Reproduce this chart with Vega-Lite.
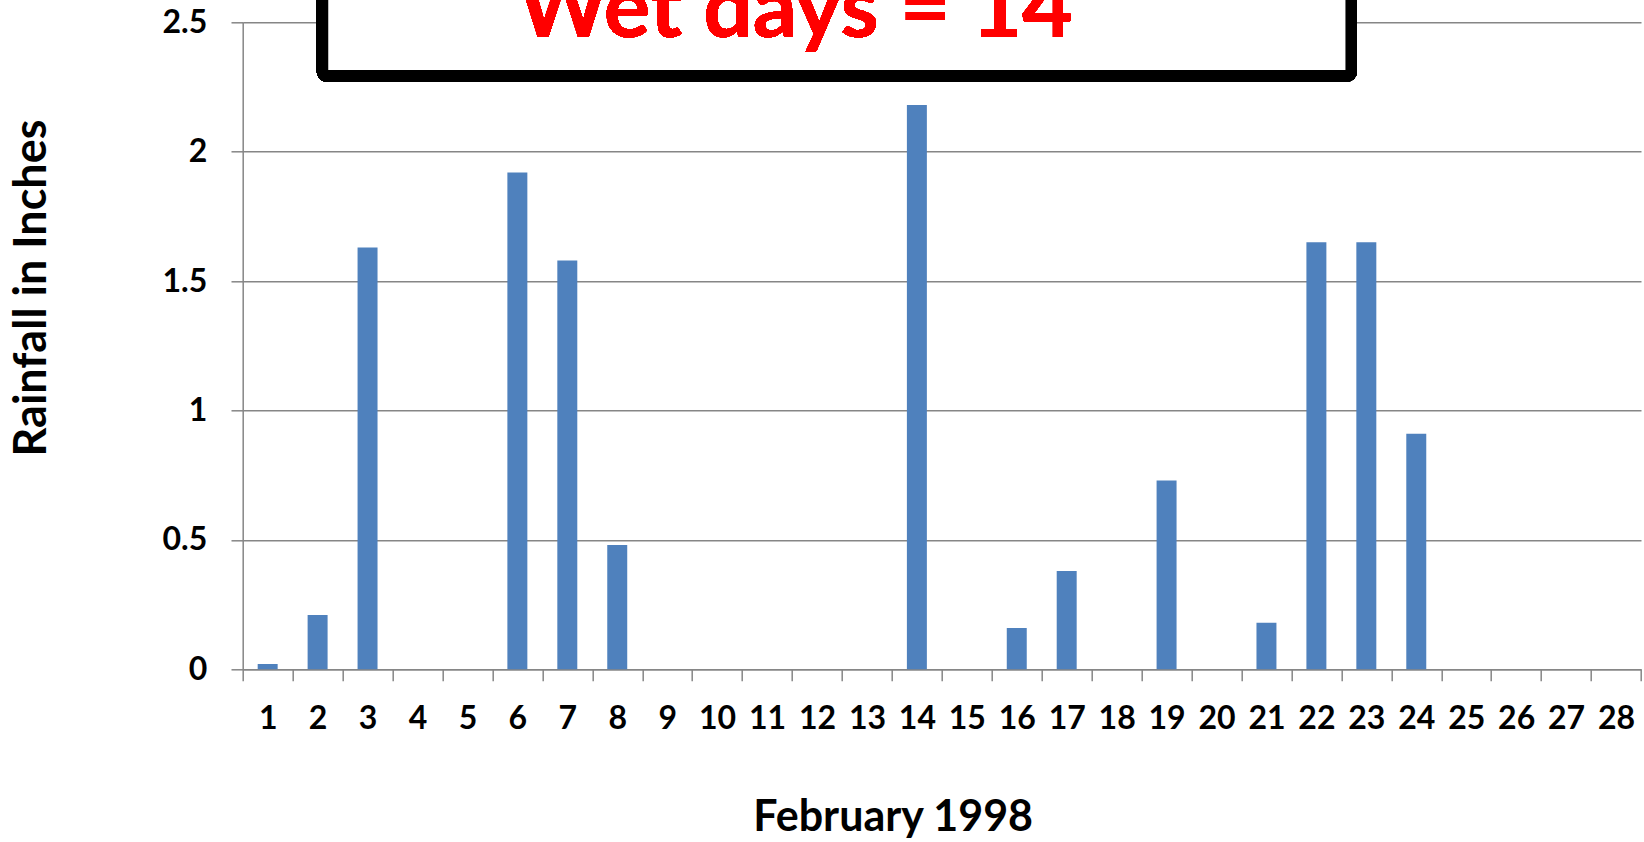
{
  "$schema": "https://vega.github.io/schema/vega-lite/v6.json",
  "width": 1398.3,
  "height": 647,
  "autosize": "none",
  "padding": {"left": 242.7, "top": 22.3, "right": 3, "bottom": 172.7},
  "background": "white",
  "config": {"view": {"stroke": null}, "font": "Lato"},
  "data": {
    "values": [
      {"day": 1, "rain": 0.02}, {"day": 2, "rain": 0.21}, {"day": 3, "rain": 1.63},
      {"day": 4, "rain": 0}, {"day": 5, "rain": 0}, {"day": 6, "rain": 1.92},
      {"day": 7, "rain": 1.58}, {"day": 8, "rain": 0.48}, {"day": 9, "rain": 0},
      {"day": 10, "rain": 0}, {"day": 11, "rain": 0}, {"day": 12, "rain": 0},
      {"day": 13, "rain": 0}, {"day": 14, "rain": 2.18}, {"day": 15, "rain": 0},
      {"day": 16, "rain": 0.16}, {"day": 17, "rain": 0.38}, {"day": 18, "rain": 0},
      {"day": 19, "rain": 0.73}, {"day": 20, "rain": 0}, {"day": 21, "rain": 0.18},
      {"day": 22, "rain": 1.65}, {"day": 23, "rain": 1.65}, {"day": 24, "rain": 0.91},
      {"day": 25, "rain": 0}, {"day": 26, "rain": 0}, {"day": 27, "rain": 0},
      {"day": 28, "rain": 0}
    ]
  },
  "layer": [
    {
      "mark": {"type": "bar", "color": "#4F81BD", "width": {"band": 0.4}},
      "encoding": {
        "x": {
          "field": "day", "type": "ordinal", "sort": null,
          "scale": {"paddingInner": 0, "paddingOuter": 0},
          "axis": {
            "title": "February 1998",
            "titleFont": "Lato", "titleFontSize": 43, "titleFontWeight": "bold", "titleColor": "black",
            "titleX": 650, "titleY": 161.4, "titleAlign": "center", "titleBaseline": "alphabetic",
            "labelFont": "Lato", "labelFontSize": 32, "labelFontWeight": "bold", "labelColor": "black",
            "labelAngle": 0, "labelBaseline": "alphabetic", "labelPadding": 47.5,
            "tickBand": "extent", "tickSize": 11.5, "tickColor": "#868686", "tickWidth": 1.5,
            "domainColor": "#868686", "domainWidth": 1.5, "grid": false
          }
        },
        "y": {
          "field": "rain", "type": "quantitative",
          "scale": {"domain": [0, 2.5], "nice": false},
          "axis": {
            "title": "Rainfall in Inches",
            "values": [0, 0.5, 1, 1.5, 2, 2.5], "format": "~g",
            "titleFont": "Lato", "titleFontSize": 45, "titleFontWeight": "bold", "titleColor": "black",
            "titleX": -197.7, "titleY": 265.2, "titleAlign": "center", "titleBaseline": "alphabetic", "titleAngle": -90,
            "labelFont": "Lato", "labelFontSize": 32, "labelFontWeight": "bold", "labelColor": "black",
            "labelPadding": 24.3, "tickSize": 11.7, "tickColor": "#868686", "tickWidth": 1.5,
            "domainColor": "#868686", "domainWidth": 1.5,
            "grid": true, "gridColor": "#868686", "gridWidth": 1.5
          }
        }
      }
    },
    {
      "mark": {"type": "rect", "fill": "white", "stroke": "black", "strokeWidth": 11.5, "cornerRadius": 4},
      "encoding": {
        "x": {"datum": 2.098, "type": "quantitative", "scale": {"domain": [0.5, 28.5], "nice": false, "zero": false}, "axis": null},
        "x2": {"datum": 22.697},
        "y": {"datum": 2.293, "type": "quantitative"},
        "y2": {"datum": 3.4}
      }
    },
    {
      "mark": {"type": "text", "text": "Wet days = 14", "font": "Lato", "fontWeight": "bold", "fontSize": 87, "color": "#FF0000", "align": "center", "baseline": "alphabetic"},
      "encoding": {
        "x": {"datum": 11.56, "type": "quantitative", "scale": {"domain": [0.5, 28.5], "nice": false, "zero": false}, "axis": null},
        "y": {"datum": 2.444, "type": "quantitative"}
      }
    }
  ],
  "resolve": {"scale": {"x": "independent"}, "axis": {"x": "independent"}}
}
